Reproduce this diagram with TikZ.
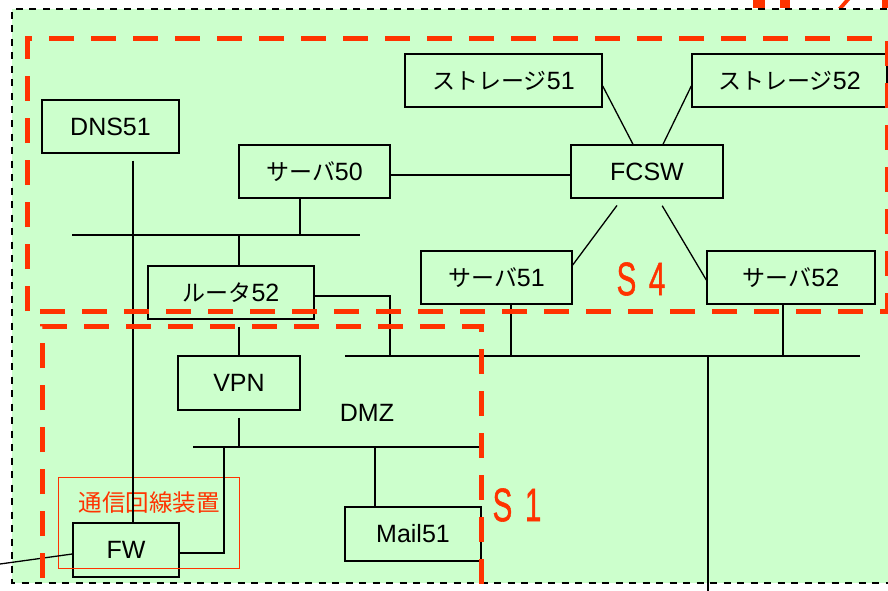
\documentclass[tikz,border=0pt]{standalone}
\usepackage{fontspec}
\setmainfont{Liberation Sans}
\newfontfamily\jpfont{Noto Sans CJK JP}
\newfontfamily\zonefont[FakeBold=1.2]{Liberation Sans}
\newcommand\jtxt[1]{{\jpfont\fontsize{23}{28}\selectfont #1}}
\definecolor{bg}{HTML}{CCFFCC}
\definecolor{rd}{HTML}{FF3300}
\begin{document}
\begin{tikzpicture}[x=1pt,y=-1pt,
  box/.style={draw, line width=1.4pt, minimum height=53, inner sep=0pt, font=\fontsize{25}{28}\selectfont},
  ln/.style={line width=1.3pt},
  rdash/.style={draw=rd, line width=5pt, dash pattern=on 25pt off 17pt},
  slabel/.style={text=rd, inner sep=0pt, font=\zonefont\fontsize{47}{50}\selectfont},
]
\useasboundingbox (0,0) rectangle (888,591);
\clip (0,0) rectangle (888,591);
\fill[white] (0,0) rectangle (888,591);
\fill[bg] (12,9) rectangle (900,583);
% cut-off red fragments at the top right
\fill[rd] (753,0) rectangle (765,8);
\fill[rd] (780,0) rectangle (790,8);
\fill[rd] (838,8) -- (843,8) -- (850,0) -- (845,0) -- cycle;
\fill[rd] (882,0) rectangle (888,8);
\draw[line width=1.8pt, dash pattern=on 7pt off 6.5pt] (900,9) -- (12,9) -- (12,583) -- (900,583);

% nodes
\node[box, minimum width=137] (dns) at (110.5,126.5) {DNS51};
\node[box, minimum width=151] (s50) at (314.5,171.5) {\jtxt{サーバ}50};
\node[box, minimum width=166] (r52) at (231,292.5) {\jtxt{ルータ}52};
\node[box, minimum width=197] (st51) at (503.5,80.5) {\jtxt{ストレージ}51};
\node[box, minimum width=195] (st52) at (789.5,80.5) {\jtxt{ストレージ}52};
\node[box, minimum width=152] (fcsw) at (647,171.5) {FCSW};
\node[box, minimum width=151] (s51) at (496.5,277.5) {\jtxt{サーバ}51};
\node[box, minimum width=168] (s52) at (791,277.5) {\jtxt{サーバ}52};
\node[box, minimum width=122, minimum height=54] (vpn) at (239,383) {VPN};
\node[box, minimum width=136, minimum height=54] (mail) at (413,534) {Mail51};
\node[box, minimum width=106, minimum height=54] (fw) at (126,550) {FW};
\node[draw=rd, line width=1pt, minimum width=181, minimum height=91, inner sep=0pt] (tsb) at (148.5,522.5) {};
\node[text=rd, inner sep=0pt, font=\jpfont\fontsize{23.5}{28}\selectfont] (tsbl) at (149,503) {通信回線装置};
\node[inner sep=0pt, font=\fontsize{25}{28}\selectfont] (dmz) at (367,413) {DMZ};

% bus coordinates
\coordinate (bAl) at (72,235);  \coordinate (bAr) at (360,235);
\coordinate (bBl) at (345,356); \coordinate (bBr) at (860,356);
\coordinate (bCl) at (193,447); \coordinate (bCr) at (481,447);
\coordinate (down) at (708,600);
\coordinate (ext) at (0,564);

% connectors
\draw[ln] (bAl) -- (bAr);
\draw[ln] (bBl) -- (bBr);
\draw[ln] (bCl) -- (bCr);
\draw[ln, shorten <=7pt] (dns.south -| 133,0) -- (fw.north -| 133,0);
\draw[ln] (s50.south -| 300,0) -- (bAl -| 300,0);
\draw[ln] (bAl -| 239,0) -- (r52.north -| 239,0);
\draw[ln] (s50.east |- 0,175) -- (fcsw.west |- 0,175);
\draw[ln] (st51.east |- 0,86) -- (fcsw.north -| 633,0);
\draw[ln] (st52.west |- 0,86) -- (fcsw.north -| 663,0);
\draw[ln, shorten <=8.4pt] (fcsw.south -| 622,0) -- (s51.east |- 0,265);
\draw[ln, shorten <=8.2pt] (fcsw.south -| 658,0) -- (s52.west |- 0,280);
\draw[ln] (r52.east |- 0,296) -| (bBl -| 390,0);
\draw[ln] (s51.south -| 511,0) -- (bBl -| 511,0);
\draw[ln] (s52.south -| 783,0) -- (bBl -| 783,0);
\draw[ln] (bBl -| down) -- (down);
\draw[ln, shorten <=7pt] (r52.south -| vpn.north) -- (vpn.north);
\draw[ln, shorten <=7pt] (vpn.south) -- (bCl -| vpn.south);
\draw[ln] (bCl -| 375,0) -- (mail.north -| 375,0);
\draw[ln] (bCl -| 224,0) |- (fw.east |- 0,553);
\draw[ln] (fw.west |- 0,554) -- (ext);

% zone labels
\node[slabel] (s4) at (641,279) {\scalebox{0.63}[1]{S\hspace{20pt}4}};
\node[slabel] (s1) at (517,505) {\scalebox{0.63}[1]{S\hspace{20pt}1}};

% red dashed zones (on top)
\draw[rdash] (27,311) -- (27,39) -- (887,39) -- (887,311) -- cycle;
\draw[rdash] (42,620) -- (42,326) -- (481,326) -- (481,620);
\end{tikzpicture}
\end{document}
